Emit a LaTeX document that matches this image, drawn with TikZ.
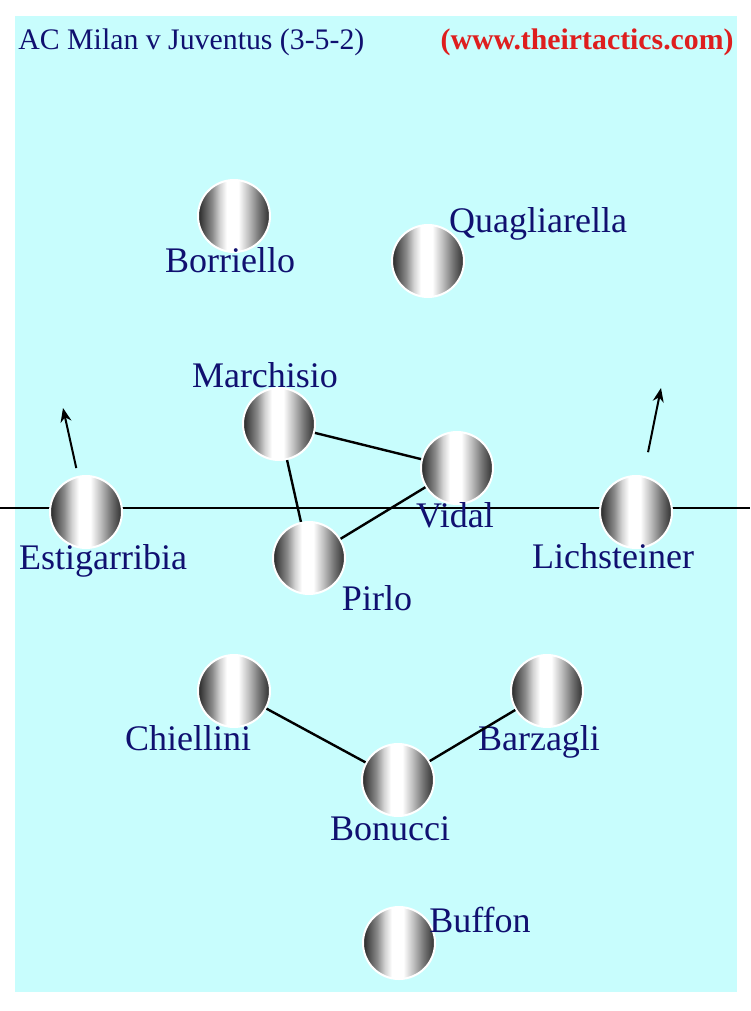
\documentclass[tikz,border=0pt]{standalone}
\usepackage{fontspec}
\setmainfont{Liberation Serif}
\usetikzlibrary{arrows.meta, positioning}

\definecolor{pitchcyan}{RGB}{200,253,253}
\definecolor{namenavy}{RGB}{16,16,112}
\definecolor{linkred}{RGB}{222,30,30}

% ball look: dark edges, soft white band just left of the middle
\pgfdeclarehorizontalshading{playerball}{100bp}{
  color(0bp)=(black!85); color(25bp)=(black!85); color(30bp)=(black!65);
  color(35bp)=(black!45); color(40bp)=(black!18); color(45bp)=(white);
  color(53bp)=(white); color(60bp)=(black!25); color(67.5bp)=(black!55);
  color(75bp)=(black!82); color(100bp)=(black!82)}

\tikzset{
  player/.style={circle, minimum size=36pt, inner sep=0pt, draw=white, line width=1pt,
    shading=playerball},
  pname/.style={anchor=base, inner sep=0pt, text=namenavy, font=\fontsize{18}{20}\selectfont},
  link/.style={line width=1.2pt},
  run/.style={line width=1pt, -{Stealth[length=7pt,width=5.5pt]}}
}

\begin{document}
\begin{tikzpicture}[x=0.5pt, y=-0.5pt]

\useasboundingbox (0,0) rectangle (750,1011);

% Pitch
\fill[pitchcyan] (15,16) rectangle (737,992);

% Title
\node[anchor=base west, inner sep=0pt, text=namenavy, font=\fontsize{14.9}{16}\selectfont] (title) at (18,50) {AC Milan v Juventus (3-5-2)};
\node[anchor=base east, inner sep=0pt, text=linkred, font=\fontsize{14.9}{16}\selectfont\bfseries] (site) at (734,50) {(www.theirtactics.com)};

% Halfway line
\coordinate (halfL) at (0,508);
\coordinate (halfR) at (750,508);
\draw[line width=1pt] (halfL) -- (halfR);

% Players: id / circle x / circle y / label x / label y / name
\foreach \id/\px/\py/\lx/\ly/\txt in {
    bor/234/216/230/272/Borriello,
    qua/428/261/538/232/Quagliarella,
    mar/279/424/265/387/Marchisio,
    vid/457/468/455/527/Vidal,
    pir/309/558/377/610/Pirlo,
    est/86/512/103/569/Estigarribia,
    lic/636/512/613/568/Lichsteiner,
    chi/234/691/188/750/Chiellini,
    bar/547/691/539/750/Barzagli,
    bon/398/780/390/840/Bonucci,
    buf/399/943/480/932/Buffon}
{
    \node[player] (\id) at (\px,\py) {};
    \node[pname] (\id-name) at (\lx,\ly) {\txt};
}

% Links
\draw[link] (mar) -- (vid);
\draw[link] (mar) -- (pir);
\draw[link] (pir) -- (vid);
\draw[link] (chi) -- (bon);
\draw[link] (bon) -- (bar);

% Forward runs of the wing backs
\coordinate (est-run) at (63,408);
\coordinate (lic-run) at (661,388);
\draw[run, shorten <=4pt] (est) -- (est-run);
\draw[run, shorten <=12pt] (lic) -- (lic-run);

\end{tikzpicture}
\end{document}
